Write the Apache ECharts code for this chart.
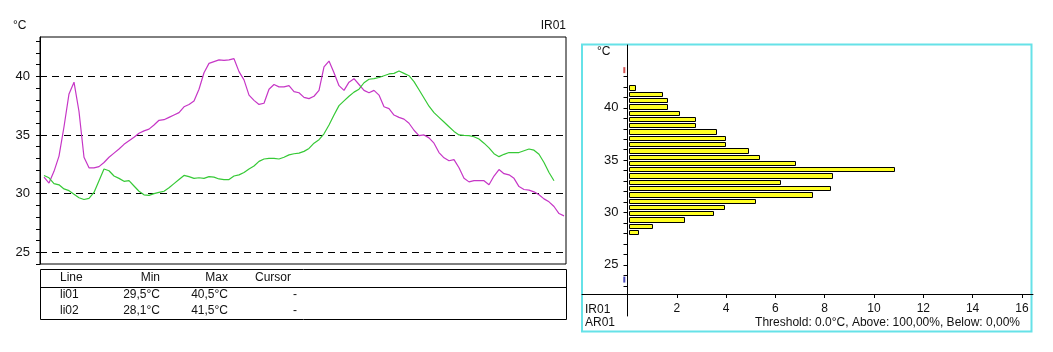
<!DOCTYPE html>
<html>
<head>
<meta charset="utf-8">
<title>IR01</title>
<script src="https://cdn.jsdelivr.net/npm/echarts/dist/echarts.min.js"></script>
<style>
  html, body { margin: 0; padding: 0; background: #fff; }
  #chart { width: 1053px; height: 352px; }
</style>
</head>
<body>
<div id="chart"></div>
<script>
// line profiles, one sample every 5 px along the trace (°C)
var li01 = [31.55, 31.35, 30.85, 30.75, 30.4, 30.25, 29.95, 29.65, 29.5, 29.6,
  30.1, 31.1, 32.1, 31.95, 31.5, 31.3, 31.05, 31.1, 30.65, 30.2,
  29.9, 29.85, 30.0, 30.1, 30.2, 30.5, 30.85, 31.2, 31.55, 31.45,
  31.3, 31.35, 31.3, 31.45, 31.4, 31.25, 31.2, 31.2, 31.5, 31.6,
  31.8, 32.1, 32.35, 32.75, 32.95, 33.0, 33.0, 32.95, 33.1, 33.3,
  33.4, 33.45, 33.6, 33.85, 34.3, 34.6, 35.1, 35.85, 36.7, 37.5,
  37.9, 38.3, 38.65, 38.9, 39.45, 39.75, 39.8, 39.9, 40.05, 40.2,
  40.25, 40.45, 40.25, 40.05, 39.55, 38.85, 38.15, 37.45, 36.9, 36.5,
  36.1, 35.7, 35.3, 35.0, 34.97, 34.95, 34.85, 34.65, 34.3, 33.9,
  33.4, 33.15, 33.35, 33.5, 33.5, 33.5, 33.65, 33.8, 33.7, 33.35,
  32.65, 31.8, 31.1]
var li02 = [31.4, 30.9, 31.9, 33.2, 35.7, 38.5, 39.5, 37.0, 33.1, 32.2,
  32.2, 32.3, 32.65, 33.1, 33.45, 33.8, 34.2, 34.5, 34.8, 35.15,
  35.35, 35.5, 35.85, 36.25, 36.3, 36.5, 36.7, 36.9, 37.4, 37.6,
  37.9, 38.9, 40.3, 41.1, 41.25, 41.4, 41.35, 41.4, 41.5, 40.4,
  39.7, 38.4, 37.95, 37.6, 37.7, 38.9, 39.3, 39.1, 39.1, 39.2,
  38.7, 38.6, 38.2, 38.1, 38.3, 38.8, 40.8, 41.3, 40.3, 39.2,
  38.8, 39.5, 39.8, 39.3, 38.8, 38.6, 38.8, 38.4, 37.4, 37.25,
  36.7, 36.5, 36.35, 36.0, 35.4, 34.95, 35.0, 34.75, 34.3, 33.5,
  33.05, 32.8, 32.9, 32.2, 31.3, 31.0, 31.1, 31.1, 31.1, 30.75,
  31.5, 32.05, 31.7, 31.6, 31.3, 30.6, 30.35, 30.3, 30.15, 29.9,
  29.55, 29.3, 28.9, 28.3, 28.1]

var tempLabels = [25, 30, 35, 40]
var tempTicksLeft = [24, 25, 26, 27, 28, 29, 30, 31, 32, 33, 34, 35, 36, 37, 38, 39, 40, 41, 42, 43]
var tempTicksRight = [23, 24, 25, 26, 27, 28, 29, 30, 31, 32, 33, 34, 35, 36, 37, 38, 39, 40, 41, 42, 43]

// histogram of IR01: bin edges (°C) and share of pixels (%)
var binEdges = [27.74, 28.34, 28.94, 29.54, 30.14, 30.74, 31.34, 31.94, 32.54, 33.14, 33.74, 34.34,
  34.94, 35.54, 36.14, 36.74, 37.34, 37.94, 38.54, 39.14, 39.74, 40.34, 40.94, 41.54, 42.14]
var binPct = [0.44, 1.0, 2.3, 3.48, 3.93, 5.19, 7.5, 8.2, 6.2, 8.3, 10.8, 6.8,
  5.35, 4.9, 3.97, 3.97, 3.6, 2.75, 2.75, 2.1, 1.61, 1.61, 1.41, 0.32]
var pctTicks = [2, 4, 6, 8, 10, 12, 14, 16]
var rangeMax = 43.6
var rangeMin = 23.6

var tableHead = ['Line', 'Min', 'Max', 'Cursor']
var tableRows = [
  ['li01', '29,5°C', '40,5°C', '-'],
  ['li02', '28,1°C', '41,5°C', '-']
]

var FONT = '"Liberation Sans", Arial, sans-serif'
var INK = '#111'

function txt(s, x, y, align) {
  return {
    type: 'text', x: x, y: y,
    style: { text: s, fill: INK, font: '12px ' + FONT, textAlign: align || 'left', textVerticalAlign: 'middle' }
  }
}

var graphics = [
  txt('°C', 13, 26),
  txt('IR01', 566, 26, 'right'),
  { type: 'rect', shape: { x: 40.5, y: 269.5, width: 526, height: 50 }, style: { fill: null, stroke: '#000', lineWidth: 1 } },
  { type: 'line', shape: { x1: 40, y1: 287.5, x2: 566, y2: 287.5 }, style: { stroke: '#000', lineWidth: 1 } },
  { type: 'rect', shape: { x: 582, y: 44.5, width: 449.5, height: 287 }, style: { fill: null, stroke: '#66e2e8', lineWidth: 2 } },
  txt('°C', 597, 52),
  txt('IR01', 585, 310),
  txt('AR01', 585, 323),
  txt('Threshold: 0.0°C, Above: 100,00%, Below: 0,00%', 1020, 323, 'right')
]
// table cells
var colX = [60, 160, 228, 255]
var colAlign = ['left', 'right', 'right', 'left']
tableHead.forEach(function (h, c) { graphics.push(txt(h, colX[c], 278, colAlign[c])) })
tableRows.forEach(function (row, r) {
  var y = 295 + r * 16
  graphics.push(txt(row[0], 60, y))
  graphics.push(txt(row[1], 160, y, 'right'))
  graphics.push(txt(row[2], 228, y, 'right'))
  graphics.push(txt(row[3], 295, y, 'center'))
})

var chart = echarts.init(document.getElementById('chart'))

chart.setOption({
  animation: false,
  backgroundColor: '#fff',
  textStyle: { fontFamily: FONT },
  grid: [
    { left: 40, top: 37, width: 526, height: 227, show: true, borderColor: '#000', borderWidth: 1, backgroundColor: 'transparent' },
    { left: 582, top: 45, width: 451, height: 271 }
  ],
  xAxis: [
    { gridIndex: 0, type: 'value', min: -0.8, max: 104.4, show: false },
    {
      gridIndex: 1,
      type: 'value',
      min: -1.846,
      max: 16.45,
      offset: -22,
      axisLine: { onZero: false, lineStyle: { color: '#000', width: 1 } },
      axisTick: { customValues: pctTicks, length: 4, lineStyle: { color: '#000' } },
      axisLabel: { customValues: pctTicks, margin: 9, color: INK, fontSize: 12 },
      splitLine: { show: false }
    }
  ],
  yAxis: [
    {
      gridIndex: 0,
      type: 'value',
      min: 24,
      max: 43.35,
      axisLine: { show: true, onZero: false, lineStyle: { color: '#000', width: 1 } },
      axisTick: { show: true, customValues: tempTicksLeft, length: 4, lineStyle: { color: '#000' } },
      axisLabel: { customValues: tempLabels, margin: 10, color: INK, fontSize: 13 },
      splitLine: { show: false }
    },
    {
      gridIndex: 1,
      type: 'value',
      min: 20.12,
      max: 46.0,
      // the value axis sits on x = 0 of the count axis, 45.5 px inside the frame
      offset: -45.5,
      axisLine: { show: true, onZero: false, lineStyle: { color: '#000', width: 1 } },
      axisTick: { show: true, customValues: tempTicksRight, length: 4, lineStyle: { color: '#000' } },
      axisLabel: { customValues: tempLabels, margin: 9, color: INK, fontSize: 13 },
      splitLine: { show: false }
    }
  ],
  graphic: graphics,
  series: [
    {
      name: 'li02',
      type: 'line',
      xAxisIndex: 0,
      yAxisIndex: 0,
      showSymbol: false,
      lineStyle: { color: '#c636c6', width: 1.2 },
      itemStyle: { color: '#c636c6' },
      data: li02.map(function (v, i) { return [i, v] }),
      // dashed reference lines at the labelled temperatures
      markLine: {
        silent: true,
        z: 1,
        symbol: ['none', 'none'],
        label: { show: false },
        lineStyle: { color: '#000', type: [7, 5], width: 1 },
        data: tempLabels.map(function (v) { return { yAxis: v } })
      }
    },
    {
      name: 'li01',
      type: 'line',
      xAxisIndex: 0,
      yAxisIndex: 0,
      showSymbol: false,
      lineStyle: { color: '#36c936', width: 1.2 },
      itemStyle: { color: '#36c936' },
      data: li01.map(function (v, i) { return [i, v] })
    },
    {
      name: 'hist',
      type: 'custom',
      xAxisIndex: 1,
      yAxisIndex: 1,
      encode: { x: 2, y: [0, 1] },
      data: binPct.map(function (v, i) { return [binEdges[i], binEdges[i + 1], v] }),
      renderItem: function (params, api) {
        var top = api.coord([0, api.value(1)])
        var bot = api.coord([api.value(2), api.value(0)])
        var y0 = Math.round(top[1]) + 0.5
        var y1 = Math.round(bot[1]) - 1.5
        var x0 = Math.round(top[0]) + 1.5
        var x1 = Math.round(bot[0]) + 0.5
        return {
          type: 'rect',
          shape: { x: x0, y: y0, width: x1 - x0, height: y1 - y0 },
          style: { fill: '#ffff22', stroke: '#000', lineWidth: 1 }
        }
      }
    },
    {
      name: 'max',
      type: 'scatter',
      xAxisIndex: 1,
      yAxisIndex: 1,
      symbol: 'rect',
      symbolSize: [2, 6],
      itemStyle: { color: '#c82828' },
      data: [[-0.13, rangeMax]]
    },
    {
      name: 'min',
      type: 'scatter',
      xAxisIndex: 1,
      yAxisIndex: 1,
      symbol: 'rect',
      symbolSize: [2, 6],
      itemStyle: { color: '#1e1ea8' },
      data: [[-0.13, rangeMin]]
    }
  ]
})
</script>
</body>
</html>
